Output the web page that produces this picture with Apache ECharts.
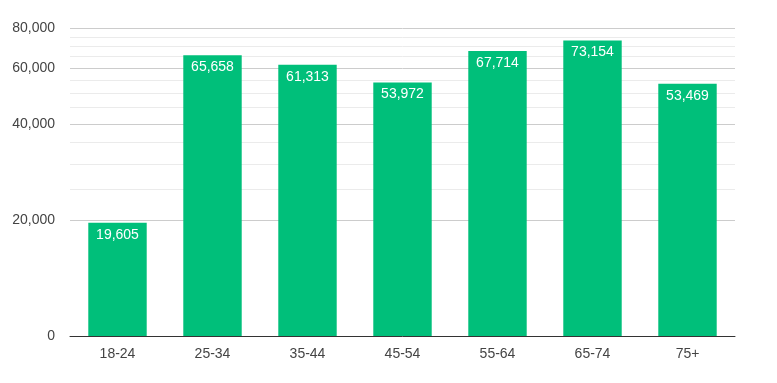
<!DOCTYPE html>
<html><head><meta charset="utf-8">
<script src="https://cdn.jsdelivr.net/npm/echarts@6/dist/echarts.min.js"></script>
<style>html,body{margin:0;padding:0;background:#fff}#c{width:777px;height:383px}</style>
</head><body><div id="c"></div>
<script>
var categories = ['18-24','25-34','35-44','45-54','55-64','65-74','75+'];
var values = [19605, 65658, 61313, 53972, 67714, 73154, 53469];
var tickValues = [0, 20000, 40000, 60000, 80000];
var minorTickValues = [25000, 30000, 35000, 45000, 50000, 55000, 65000, 70000, 75000];
var scaleBase = 8650;

function tf(v){ return v <= 0 ? 0 : Math.log(v / scaleBase); }
function fmt(n){ return n.toString().replace(/\B(?=(\d{3})+(?!\d))/g, ','); }

var chart = echarts.init(document.getElementById('c'), null, {renderer:'canvas'});
var yMax = tf(80000);
chart.setOption({
  animation: false,
  grid: {left: 70, right: 42, top: 28, bottom: 47},
  xAxis: {
    type: 'category', data: categories,
    axisLine: {lineStyle: {color: '#333', width: 1}},
    axisTick: {show: false},
    axisLabel: {color: '#444', fontFamily: 'Liberation Sans, Arial', fontSize: 14, margin: 11}
  },
  yAxis: [{
    type: 'value', min: 0, max: yMax,
    axisLine: {show: false},
    axisTick: {show: false, customValues: tickValues.map(tf)},
    axisLabel: {
      color: '#444', fontFamily: 'Liberation Sans, Arial', fontSize: 14, margin: 15,
      customValues: tickValues.map(tf),
      formatter: function(v){
        for (var i = 0; i < tickValues.length; i++) {
          if (Math.abs(tf(tickValues[i]) - v) < 1e-6) return fmt(tickValues[i]);
        }
        return '';
      }
    },
    splitLine: {show: true, lineStyle: {color: '#cccccc', width: 1}}
  }, {
    type: 'value', min: 0, max: yMax, position: 'left',
    axisLine: {show: false},
    axisTick: {show: false, customValues: minorTickValues.map(tf)},
    axisLabel: {show: false, customValues: minorTickValues.map(tf)},
    splitLine: {show: true, lineStyle: {color: '#ebebeb', width: 1}}
  }],
  series: [{
    type: 'bar', yAxisIndex: 0,
    data: values.map(tf),
    barWidth: '61.5%',
    itemStyle: {color: '#00bf7a'},
    label: {
      show: true, position: 'insideTop', distance: 5,
      color: '#fff', fontFamily: 'Liberation Sans, Arial', fontSize: 14,
      formatter: function(p){ return fmt(values[p.dataIndex]); }
    },
    z: 3
  }]
});
</script></body></html>
